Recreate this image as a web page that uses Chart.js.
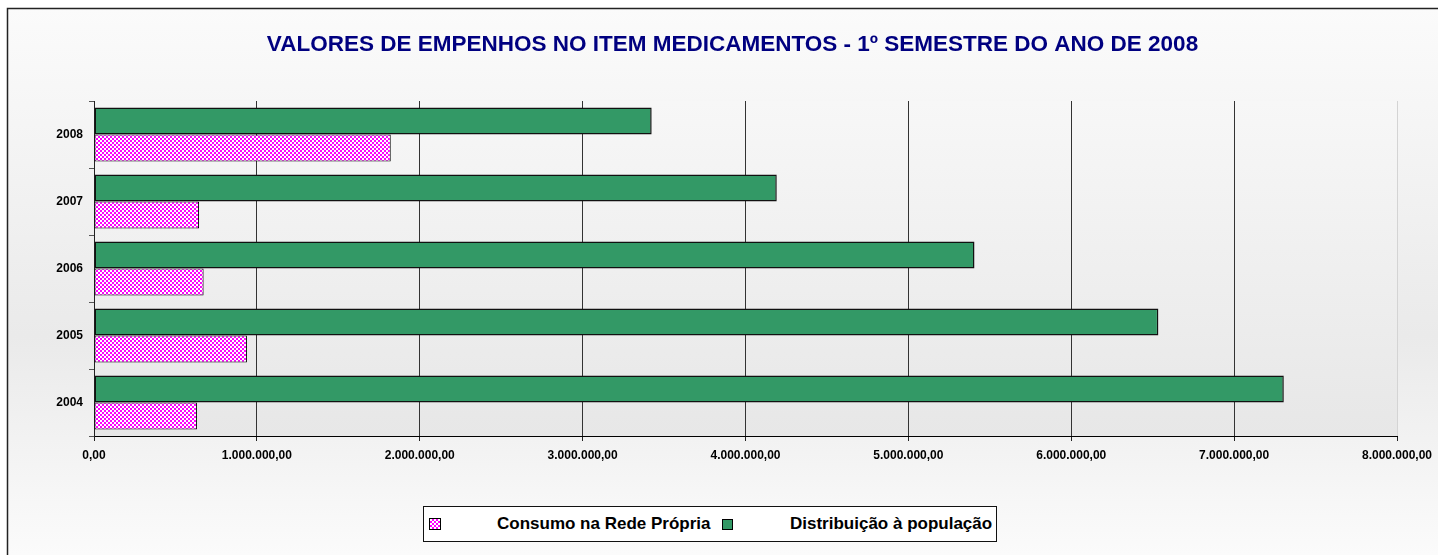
<!DOCTYPE html>
<html>
<head>
<meta charset="utf-8">
<script src="https://cdn.jsdelivr.net/npm/chart.js@4.4.1/dist/chart.umd.min.js"></script>
<style>
  html, body { margin: 0; padding: 0; background: #fff; overflow: hidden; width: 1438px; height: 555px; }
  #wrap { position: absolute; left: 0; top: 0; width: 1465px; height: 555px; }
  #legend {
    position: absolute; left: 423px; top: 506px; width: 572px; height: 34px;
    border: 1px solid #111; background: #fff;
    font: bold 17px Arial, "Liberation Sans", sans-serif; color: #000;
  }
  .sw { position: absolute; border: 1px solid #000; box-sizing: border-box; }
  .lt { position: absolute; top: 0; line-height: 34px; white-space: nowrap; }
</style>
</head>
<body>
<div id="wrap"><canvas id="chart" width="1465" height="555"></canvas></div>
<div id="legend"></div>
<script>
// data
const years = ['2008', '2007', '2006', '2005', '2004'];
const consumoRede = [1822000, 645000, 673000, 939000, 632000];
const distribuicao = [3424000, 4192000, 5406000, 6535000, 7305000];
const xTickLabels = ['0,00', '1.000.000,00', '2.000.000,00', '3.000.000,00', '4.000.000,00',
    '5.000.000,00', '6.000.000,00', '7.000.000,00', '8.000.000,00'];
const seriesNames = ['Consumo na Rede Própria', 'Distribuição à população'];
const chartTitle = 'VALORES DE EMPENHOS NO ITEM MEDICAMENTOS - 1º SEMESTRE DO ANO DE 2008';

const FONT = 'Arial, "Liberation Sans", sans-serif';
const GREEN = '#339966';

// magenta checker pattern for the first series
const tile = document.createElement('canvas');
tile.width = 4;
tile.height = 4;
const tctx = tile.getContext('2d');
tctx.fillStyle = '#ff00ff';
tctx.fillRect(0, 0, 4, 4);
tctx.fillStyle = '#ffffff';
tctx.fillRect(0, 0, 2, 2);
tctx.fillRect(2, 2, 2, 2);

const ctx = document.getElementById('chart').getContext('2d');
const pinkPattern = ctx.createPattern(tile, 'repeat');

// background, frame and plot area gradient
const backdrop = {
    id: 'backdrop',
    afterLayout(chart) {
        // the reference title is centred a bit right of the plot, shift its box
        if (chart.titleBlock) {
            chart.titleBlock.left = 68;
        }
    },
    beforeDraw(chart) {
        const c = chart.ctx;
        const w = chart.width, h = chart.height;
        const area = chart.chartArea;
        c.save();
        c.fillStyle = '#fff';
        c.fillRect(0, 0, w, h);

        const g = c.createLinearGradient(0, 8, 0, h);
        g.addColorStop(0, '#fbfbfb');
        g.addColorStop(0.6, '#eaeaea');
        g.addColorStop(1, '#fbfbfb');
        c.fillStyle = g;
        c.fillRect(7, 8, w, h);

        const pg = c.createLinearGradient(0, area.top, 0, area.bottom);
        pg.addColorStop(0, '#f7f7f7');
        pg.addColorStop(1, '#e7e7e7');
        c.fillStyle = pg;
        c.fillRect(area.left, area.top, area.right - area.left, area.bottom - area.top);

        c.strokeStyle = '#222';
        c.lineWidth = 1.5;
        c.strokeRect(7.5, 8.5, w + 20, h + 20);
        c.restore();
    }
};

const chart = new Chart(ctx, {
    type: 'bar',
    data: {
        labels: years,
        datasets: [{
            label: seriesNames[1],
            data: distribuicao,
            backgroundColor: GREEN,
            borderColor: '#111',
            borderWidth: 1.5,
            borderSkipped: false
        }, {
            label: seriesNames[0],
            data: consumoRede,
            backgroundColor: pinkPattern,
            borderColor: '#000',
            borderWidth: 1,
            borderSkipped: false
        }]
    },
    options: {
        indexAxis: 'y',
        responsive: false,
        animation: false,
        devicePixelRatio: 1,
        barPercentage: 1,
        categoryPercentage: 0.806,
        layout: { padding: { left: 0, right: 68, top: 0, bottom: 0 } },
        scales: {
            x: {
                min: 0,
                max: 8000000,
                afterFit: scale => { scale.height = 119; },
                ticks: {
                    stepSize: 1000000,
                    autoSkip: false,
                    maxRotation: 0,
                    padding: 7,
                    color: '#000',
                    font: { family: FONT, size: 12, weight: 'bold' },
                    callback: (value, index) => xTickLabels[index]
                },
                grid: {
                    color: c => (c.tick && c.tick.value === 8000000) ? '#d4d4d4' : '#333',
                    tickColor: '#222',
                    tickLength: 5,
                    lineWidth: 1
                },
                border: { display: true, color: '#000', width: 1 }
            },
            y: {
                afterFit: scale => { scale.width = 94; },
                ticks: {
                    padding: 6,
                    color: '#000',
                    font: { family: FONT, size: 12, weight: 'bold' }
                },
                grid: {
                    drawOnChartArea: false,
                    tickLength: 5,
                    tickColor: '#555',
                    offset: true
                },
                border: { display: true, color: '#222', width: 1 }
            }
        },
        plugins: {
            legend: { display: false },
            tooltip: { enabled: false },
            title: {
                display: true,
                text: chartTitle,
                color: '#000080',
                font: { family: FONT, size: 22.5, weight: 'bold', lineHeight: 1.2 },
                padding: { top: 31, bottom: 43 }
            }
        }
    },
    plugins: [backdrop]
});

// legend box below the chart
const legend = document.getElementById('legend');
const tileUrl = tile.toDataURL();
const legendItems = [
    { text: seriesNames[0], swLeft: 5, swSize: 12, textLeft: 73, bg: `url(${tileUrl})` },
    { text: seriesNames[1], swLeft: 298, swSize: 11, textLeft: 366, bg: GREEN }
];
legendItems.forEach(item => {
    const sw = document.createElement('div');
    sw.className = 'sw';
    sw.style.left = item.swLeft + 'px';
    sw.style.top = (17 - item.swSize / 2) + 'px';
    sw.style.width = item.swSize + 'px';
    sw.style.height = item.swSize + 'px';
    sw.style.background = item.bg;
    legend.appendChild(sw);

    const t = document.createElement('span');
    t.className = 'lt';
    t.style.left = item.textLeft + 'px';
    t.textContent = item.text;
    legend.appendChild(t);
});
</script>
</body>
</html>
